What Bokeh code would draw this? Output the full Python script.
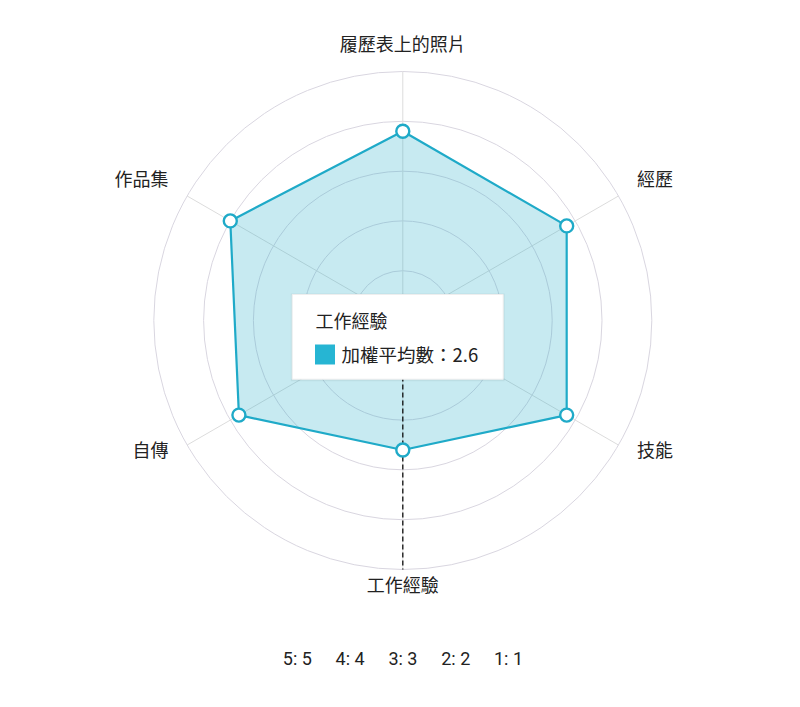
import numpy as np
from bokeh.plotting import figure
from bokeh.models import Range1d
from bokeh.core.properties import value
from bokeh.embed import file_html
from bokeh.resources import INLINE

# ---- data ----
categories = ["履歷表上的照片", "經歷", "技能", "工作經驗", "自傳", "作品集"]
scores = [3.8, 3.8, 3.8, 2.6, 3.8, 4.0]
ring_levels = [1, 2, 3, 4, 5]
legend_labels = ["5: 5", "4: 4", "3: 3", "2: 2", "1: 1"]
tooltip_title = "工作經驗"
tooltip_text = "加權平均數：2.6"

# ---- layout ----
W, H = 784, 691
PX = 49.8             # pixels per unit
CX, CY = 402.3, 320.0 # center in plot pixels (from top-left)
CJK = value("Noto Sans CJK TC")
LINE = "#1faac8"

p = figure(width=W, height=H, output_backend="svg", toolbar_location=None,
           x_range=Range1d(-CX / PX, (W - CX) / PX),
           y_range=Range1d(-(H - CY) / PX, CY / PX),
           min_border=0, outline_line_color=None)
p.axis.visible = False
p.grid.visible = False
p.background_fill_color = "white"

n = len(categories)
angles = np.deg2rad(90 - 360.0 / n * np.arange(n))
rmax = max(ring_levels)

# rings
p.circle(x=[0] * len(ring_levels), y=[0] * len(ring_levels), radius=ring_levels,
         fill_color=None, line_color="#d9d6e0", line_width=1)
# spokes
p.segment(x0=[0] * n, y0=[0] * n, x1=rmax * np.cos(angles), y1=rmax * np.sin(angles),
          line_color="#dcdcdc", line_width=1)

# polygon
vals = np.array(scores)
xs = vals * np.cos(angles)
ys = vals * np.sin(angles)
p.patch(list(xs), list(ys), fill_color=LINE, fill_alpha=0.25, line_color=None)
p.line(list(xs) + [xs[0]], list(ys) + [ys[0]], line_color=LINE, line_width=2.2)

# dashed pointer line for hovered axis (工作經驗)
hi = categories.index(tooltip_title)
p.line([0, rmax * np.cos(angles[hi])], [0, rmax * np.sin(angles[hi])],
       line_color="#111111", line_width=1.3, line_dash="5 3")

p.scatter(xs, ys, size=13, fill_color="white", line_color=LINE, line_width=2.4)

# axis labels
LR = 5.43
lx = LR * np.cos(angles)
ly = LR * np.sin(angles)
aligns = []
for a in angles:
    c = np.cos(a)
    aligns.append("center" if abs(c) < 1e-6 else ("left" if c > 0 else "right"))
p.text(x=lx, y=ly, text=categories, text_align=aligns, text_baseline="middle",
       text_font=CJK, text_font_size="18px", text_color="#222222", y_offset=-7)

# tooltip box
bx0, bx1 = (291.7 - 402.3) / PX, (502.7 - 402.3) / PX
by1, by0 = (320 - 294) / PX, (320 - 378.7) / PX
p.quad(left=[bx0 - 0.03], right=[bx1 + 0.03], top=[by1 + 0.02], bottom=[by0 - 0.04],
       fill_color="#000000", fill_alpha=0.05, line_color=None)
p.quad(left=[bx0], right=[bx1], top=[by1], bottom=[by0],
       fill_color="white", line_color="#eeeeee", line_width=1)
p.text(x=[(315 - 402.3) / PX], y=[(320 - 319) / PX], text=[tooltip_title],
       text_align="left", text_baseline="middle", text_font=CJK,
       text_font_size="18px", text_color="#222222")
p.scatter(x=[(324.5 - 402.3) / PX], y=[(320 - 354) / PX], marker="square", size=20,
          fill_color="#26b5d3", line_color=None)
p.text(x=[(341 - 402.3) / PX], y=[(320 - 353.5) / PX], text=[tooltip_text],
       text_align="left", text_baseline="middle", text_font=CJK,
       text_font_size="18.5px", text_color="#222222")

# bottom legend
lgx = [(282.3 + i * 52.8 - 402.3) / PX for i in range(len(legend_labels))]
p.text(x=lgx, y=[(320 - 658) / PX] * len(legend_labels), text=legend_labels,
       text_align="left", text_baseline="middle", text_font=value("Roboto"),
       text_font_size="18px", text_color="#222222")

open("out.html", "w").write(file_html(p, INLINE))
